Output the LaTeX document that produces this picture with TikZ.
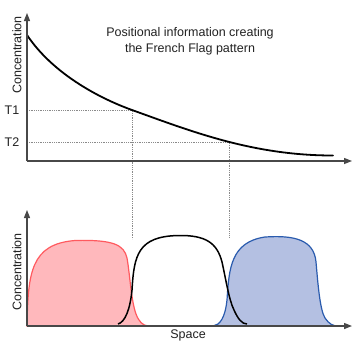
\documentclass[tikz,border=0pt]{standalone}
\usepackage{fontspec}
\setmainfont{Liberation Sans}
\usetikzlibrary{arrows.meta}
\definecolor{axisgray}{HTML}{484848}
\definecolor{textgray}{HTML}{222222}
\definecolor{guidegray}{HTML}{8A8A8A}
\definecolor{redline}{HTML}{FF5A5F}
\definecolor{redfill}{HTML}{FFB8BC}
\definecolor{blueline}{HTML}{2A5BAE}
\definecolor{bluefill}{HTML}{B4C0E2}
\tikzset{
  axis/.style={draw=axisgray, line width=1.3pt, -{Triangle[length=8pt,width=6pt]}},
  guide/.style={draw=guidegray, line width=0.7pt, dash pattern=on 1pt off 0.8pt},
  lbl/.style={font=\fontsize{12.5}{16}\selectfont, text=textgray, inner sep=0pt},
}
\begin{document}
\begin{tikzpicture}[x=1pt,y=-1pt]
\useasboundingbox (0,0) rectangle (352,341);
\fill[white] (0,0) rectangle (352,341);

% ---- upper graph: morphogen gradient ----
\coordinate (o1) at (27,161);
\coordinate (y1) at (27,13);
\coordinate (x1) at (352,161);
\coordinate (g0) at (27,35);
\coordinate (g3) at (333,155.5);
\coordinate (t1l) at (27,110);
\coordinate (t1c) at (132,110);
\coordinate (t2l) at (27,142);
\coordinate (t2c) at (229.5,142);
\coordinate (t1b) at (132,239);
\coordinate (t2b) at (229.5,238);

\draw[guide] (t1l) -- (t1c) -- (t1b);
\draw[guide] (t2l) -- (t2c) -- (t2b);

% decaying concentration profile
\draw[black, line width=1.8pt, line cap=round]
  (g0) .. controls (52,72.5) and (97,97.4) .. (t1c)
  .. controls (192,131.6) and (253,155.5) .. (g3);

\draw[axis] (o1) -- (y1);
\draw[axis] (o1) -- (x1);

\node[lbl] (t1) at (12,110) {T1};
\node[lbl] (t2) at (12,142) {T2};
\node[lbl, rotate=90] (c1) at (17,55) {Concentration};
\node[lbl, align=center] (title) at (190,41) {Positional information creating\\the French Flag pattern};

% ---- lower graph: three expression domains ----
\coordinate (o2) at (27,326);
\coordinate (y2) at (27,210);
\coordinate (x2) at (352,326);

\filldraw[fill=redfill, draw=redline, line width=1.2pt]
  (27,326) .. controls (28,272) and (31,244) .. (75,240.5)
  .. controls (114,239.5) and (124,245) .. (127,258)
  .. controls (130,275) and (131,300) .. (136,314)
  .. controls (139,322) and (143,325.5) .. (148,326) -- cycle;

\filldraw[fill=bluefill, draw=blueline, line width=1.2pt]
  (213,326) .. controls (220,325) and (225,318) .. (227,300)
  .. controls (229,268) and (231,242) .. (265,237)
  .. controls (295,235) and (314,240) .. (316,262)
  .. controls (318,285) and (320,310) .. (325,318)
  .. controls (329,324) and (333,326) .. (338,326) -- cycle;

\draw[black, line width=1.5pt]
  (118,324) .. controls (125,322) and (130,310) .. (132,290)
  .. controls (134,255) and (138,236.5) .. (178,235.5)
  .. controls (206,235) and (217,243) .. (222,262)
  .. controls (226,280) and (229,300) .. (234,310)
  .. controls (238,319) and (242,324) .. (247,324);

\draw[axis] (o2) -- (y2);
\draw[axis] (o2) -- (x2);

\node[lbl, rotate=90] (c2) at (17,272) {Concentration};
\node[lbl] (space) at (188,335) {Space};
\end{tikzpicture}
\end{document}
